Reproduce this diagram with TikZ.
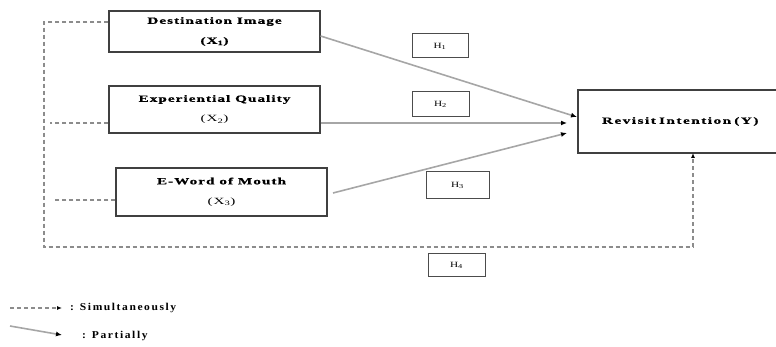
\documentclass[tikz,border=0pt]{standalone}
\usepackage{fontspec}
\setmainfont{Liberation Serif}
\usetikzlibrary{arrows.meta}
\newcommand{\heavy}[1]{{\bfseries\addfontfeature{FakeBold=0.8}#1}}
\begin{document}
\begin{tikzpicture}[x=1pt,y=-1pt,
  varbox/.style={draw=black!75,line width=1.1pt,minimum width=211pt,align=center,inner sep=0pt,font=\fontsize{9.5}{20}\selectfont\addfontfeature{FakeStretch=1.6,LetterSpace=11}},
  hbox/.style={draw=black!70,line width=1pt,inner sep=0pt,font=\fontsize{8}{8}\selectfont\addfontfeature{FakeStretch=1.4}},
  solidarr/.style={draw=black!35,line width=1.6pt,-{Latex[length=6pt,width=5pt,black]}},
  dasharr/.style={draw=black!45,line width=1.2pt,dash pattern=on 4pt off 3pt},
  lbl/.style={font=\fontsize{10.5}{12}\selectfont\bfseries\addfontfeature{LetterSpace=15,FakeStretch=1.1},anchor=west,inner sep=0pt}]
\useasboundingbox (0,0) rectangle (776,347);
\node[varbox,minimum height=41pt] (x1) at (214.5,31.5) {\heavy{Destination Image}\\\heavy{(X\textsubscript{1})}};
\node[varbox,minimum height=47pt] (x2) at (214.5,109.5) {\heavy{Experiential Quality}\\(X\textsubscript{2})};
\node[varbox,minimum height=48pt] (x3) at (221.5,192) {\heavy{E-Word of Mouth}\\(X\textsubscript{3})};
\node[varbox,minimum width=220pt,minimum height=63pt,text width=200pt,align=left,font=\fontsize{9.5}{20}\selectfont\addfontfeature{FakeStretch=1.6,LetterSpace=16}] (y) at (688,121.5) {\hspace{14pt}\heavy{Revisit Intention (Y)}};
\node[hbox,minimum width=56pt,minimum height=24pt] (h1) at (440,46) {H\textsubscript{1}};
\node[hbox,minimum width=57pt,minimum height=25pt] (h2) at (440.5,104.5) {H\textsubscript{2}};
\node[hbox,minimum width=63pt,minimum height=27pt] (h3) at (457.5,185.5) {H\textsubscript{3}};
\node[hbox,minimum width=57pt,minimum height=23pt] (h4) at (456.5,265.5) {H\textsubscript{4}};
% partial arrows
\draw[solidarr] (x1.east |- 0,36) -- (577,117);
\draw[solidarr] (x2.east |- 0,123) -- (567,123);
\draw[solidarr] (333,193) -- (567,133);
% simultaneous
\coordinate (c1) at (44,22);
\coordinate (c2) at (44,247);
\coordinate (c3) at (693,247);
\draw[dasharr] (x1.west |- c1) -- (c1) -- (c2) -- (c3);
\draw[dasharr,-{Latex[length=5pt,width=4pt,black]}] (c3) -- (693,153);
\draw[dasharr] (x2.west |- 0,123) -- (50,123);
\draw[dasharr] (x3.west |- 0,200) -- (55,200);
% legend
\coordinate (l1) at (10,308);
\coordinate (l2) at (62,308);
\draw[dasharr,-{Latex[length=5pt,width=4pt,black]}] (l1) -- (l2);
\node[lbl] (ls) at (70,308) {: Simultaneously};
\coordinate (l3) at (10,326);
\coordinate (l4) at (62,335);
\draw[solidarr] (l3) -- (l4);
\node[lbl] (lp) at (82,336) {: Partially};
\end{tikzpicture}
\end{document}
